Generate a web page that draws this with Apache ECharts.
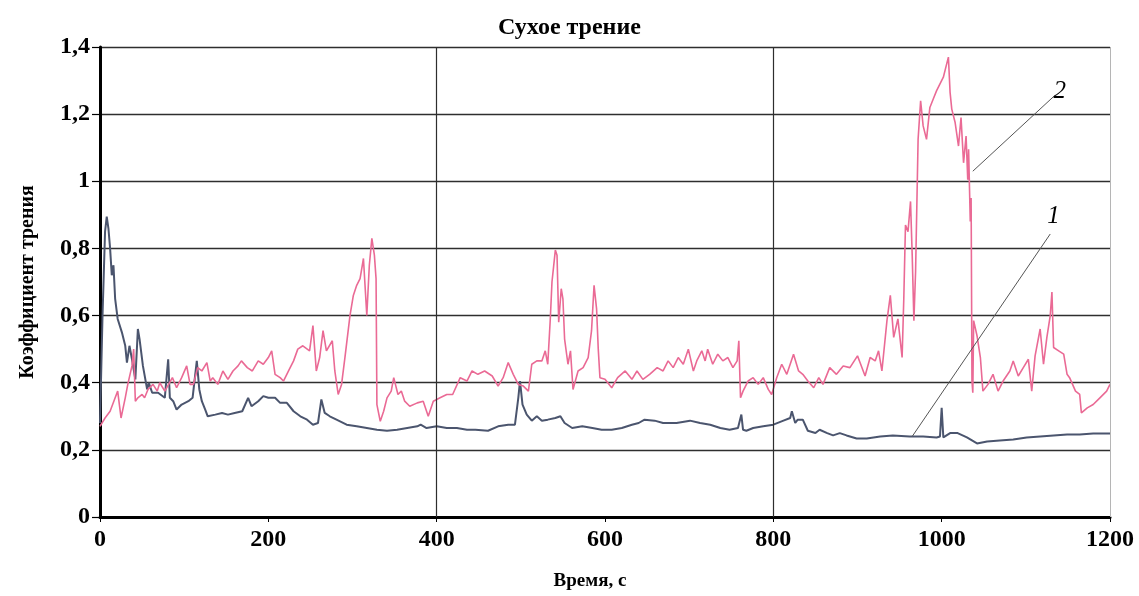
<!DOCTYPE html>
<html>
<head>
<meta charset="utf-8">
<script src="https://cdn.jsdelivr.net/npm/echarts@6/dist/echarts.min.js"></script>
<style>
  html, body { margin: 0; padding: 0; background: #fff; }
  #chart { width: 1139px; height: 596px; }
</style>
</head>
<body>
<div id="chart"></div>
<script>
// кривая 1 (тёмная)
const time1 = [0, 3, 6, 8, 10, 12, 14, 16, 18, 21, 26, 30, 32, 35, 38, 42, 45, 47, 51, 56, 58, 62, 69, 77, 81, 83, 87, 91, 97, 105, 110, 115, 118, 121, 125, 128, 137, 145, 152, 160, 169, 176, 180, 188, 194, 200, 208, 214, 222, 230, 238, 246, 253, 259, 263, 267, 273, 281, 293, 305, 317, 329, 341, 353, 365, 377, 381, 388, 400, 412, 424, 436, 446, 461, 473, 485, 493, 497, 499, 502, 507, 513, 519, 525, 532, 541, 547, 552, 561, 573, 585, 596, 608, 620, 632, 640, 647, 659, 669, 685, 701, 713, 725, 737, 748, 758, 762, 764, 768, 776, 788, 800, 812, 820, 822, 826, 829, 835, 841, 850, 855, 864, 871, 879, 887, 899, 911, 927, 942, 962, 978, 994, 998, 1000, 1002, 1010, 1019, 1030, 1042, 1054, 1069, 1085, 1101, 1117, 1133, 1149, 1164, 1180, 1200]
const coef1 = [0.28, 0.6, 0.85, 0.895, 0.86, 0.8, 0.72, 0.75, 0.65, 0.59, 0.55, 0.51, 0.46, 0.51, 0.47, 0.41, 0.56, 0.53, 0.45, 0.38, 0.4, 0.37, 0.37, 0.355, 0.47, 0.355, 0.345, 0.32, 0.335, 0.345, 0.355, 0.465, 0.38, 0.345, 0.32, 0.3, 0.305, 0.31, 0.305, 0.31, 0.315, 0.355, 0.33, 0.345, 0.36, 0.355, 0.355, 0.34, 0.34, 0.315, 0.3, 0.29, 0.275, 0.28, 0.35, 0.31, 0.3, 0.29, 0.275, 0.27, 0.265, 0.26, 0.257, 0.26, 0.265, 0.27, 0.275, 0.265, 0.27, 0.265, 0.265, 0.26, 0.26, 0.257, 0.27, 0.275, 0.275, 0.355, 0.405, 0.335, 0.305, 0.287, 0.3, 0.287, 0.29, 0.295, 0.3, 0.28, 0.265, 0.27, 0.265, 0.26, 0.26, 0.265, 0.275, 0.28, 0.29, 0.287, 0.28, 0.28, 0.287, 0.28, 0.275, 0.265, 0.26, 0.265, 0.305, 0.26, 0.257, 0.265, 0.27, 0.275, 0.287, 0.295, 0.315, 0.28, 0.29, 0.29, 0.257, 0.25, 0.26, 0.25, 0.243, 0.25, 0.243, 0.234, 0.234, 0.24, 0.243, 0.24, 0.24, 0.237, 0.24, 0.325, 0.237, 0.25, 0.25, 0.237, 0.219, 0.225, 0.228, 0.231, 0.237, 0.24, 0.243, 0.246, 0.246, 0.249, 0.249]

// кривая 2 (розовая)
const time2 = [0, 2, 6, 12, 18, 21, 25, 30, 33, 38, 40, 42, 45, 50, 53, 57, 63, 68, 71, 77, 86, 91, 97, 103, 107, 111, 116, 121, 127, 131, 134, 140, 146, 152, 158, 164, 168, 175, 181, 188, 194, 200, 204, 208, 214, 218, 224, 230, 235, 241, 249, 253, 257, 261, 265, 269, 276, 279, 283, 287, 291, 297, 301, 305, 309, 313, 317, 320, 323, 326, 328, 329, 333, 337, 341, 346, 349, 354, 358, 362, 368, 377, 384, 390, 396, 404, 412, 419, 428, 436, 442, 449, 457, 466, 473, 479, 485, 491, 497, 503, 509, 513, 519, 525, 529, 532, 535, 537, 541, 543, 545, 548, 550, 552, 556, 559, 562, 568, 574, 580, 584, 587, 590, 592, 594, 600, 608, 615, 624, 632, 638, 645, 653, 662, 669, 675, 681, 687, 693, 699, 705, 709, 715, 719, 722, 728, 734, 740, 746, 752, 757, 759, 761, 764, 770, 776, 782, 788, 794, 798, 804, 810, 816, 824, 830, 835, 841, 848, 854, 859, 867, 875, 883, 891, 900, 903, 909, 915, 921, 925, 929, 935, 939, 943, 948, 953, 955, 957, 960, 963, 965, 967, 969, 972, 975, 978, 982, 986, 990, 994, 998, 1002, 1005, 1008, 1010, 1012, 1016, 1020, 1023, 1026, 1029, 1031, 1032, 1034, 1035, 1036, 1037, 1038, 1042, 1046, 1049, 1055, 1061, 1067, 1073, 1081, 1085, 1091, 1097, 1103, 1107, 1111, 1117, 1121, 1125, 1129, 1131, 1133, 1139, 1145, 1149, 1152, 1159, 1164, 1166, 1173, 1180, 1188, 1196, 1200]
const coef2 = [0.27, 0.275, 0.295, 0.315, 0.355, 0.375, 0.295, 0.355, 0.395, 0.45, 0.5, 0.345, 0.355, 0.365, 0.355, 0.38, 0.395, 0.375, 0.4, 0.375, 0.415, 0.385, 0.415, 0.45, 0.395, 0.395, 0.445, 0.435, 0.46, 0.405, 0.415, 0.395, 0.435, 0.41, 0.435, 0.45, 0.465, 0.445, 0.435, 0.465, 0.455, 0.475, 0.495, 0.425, 0.415, 0.405, 0.435, 0.465, 0.5, 0.51, 0.495, 0.57, 0.435, 0.475, 0.555, 0.495, 0.525, 0.435, 0.365, 0.395, 0.475, 0.6, 0.66, 0.69, 0.71, 0.77, 0.6, 0.75, 0.83, 0.78, 0.71, 0.335, 0.285, 0.315, 0.355, 0.375, 0.415, 0.365, 0.375, 0.345, 0.33, 0.34, 0.345, 0.3, 0.345, 0.355, 0.365, 0.365, 0.415, 0.405, 0.435, 0.425, 0.435, 0.42, 0.39, 0.415, 0.46, 0.425, 0.395, 0.39, 0.375, 0.455, 0.465, 0.465, 0.495, 0.455, 0.59, 0.7, 0.795, 0.78, 0.58, 0.68, 0.65, 0.53, 0.455, 0.495, 0.38, 0.435, 0.445, 0.475, 0.555, 0.69, 0.62, 0.5, 0.415, 0.41, 0.385, 0.415, 0.435, 0.41, 0.435, 0.41, 0.425, 0.445, 0.435, 0.465, 0.445, 0.475, 0.455, 0.5, 0.435, 0.465, 0.495, 0.465, 0.5, 0.455, 0.485, 0.465, 0.475, 0.445, 0.465, 0.525, 0.355, 0.375, 0.405, 0.415, 0.395, 0.415, 0.38, 0.365, 0.415, 0.455, 0.425, 0.485, 0.435, 0.425, 0.405, 0.385, 0.415, 0.395, 0.445, 0.425, 0.45, 0.445, 0.48, 0.46, 0.42, 0.475, 0.465, 0.495, 0.435, 0.585, 0.66, 0.535, 0.59, 0.475, 0.65, 0.87, 0.85, 0.94, 0.78, 0.585, 0.73, 1.125, 1.24, 1.165, 1.125, 1.22, 1.245, 1.27, 1.29, 1.31, 1.34, 1.37, 1.265, 1.215, 1.175, 1.105, 1.19, 1.055, 1.135, 1.005, 1.095, 0.88, 0.95, 0.405, 0.37, 0.585, 0.54, 0.475, 0.375, 0.395, 0.425, 0.375, 0.405, 0.435, 0.465, 0.42, 0.445, 0.47, 0.375, 0.48, 0.56, 0.455, 0.535, 0.6, 0.67, 0.505, 0.495, 0.485, 0.425, 0.415, 0.375, 0.365, 0.31, 0.325, 0.335, 0.355, 0.375, 0.395]

const xTicks = [0, 200, 400, 600, 800, 1000, 1200]
const vGridX = [400, 800]
// выноски: [x1, y1, x2, y2] в координатах данных
const leader1 = [965, 0.24, 1129, 0.843]
const leader2 = [1037, 1.03, 1135, 1.257]

const serif = '"Liberation Serif", "DejaVu Serif", serif'

const zip = (xs, ys) => xs.map((x, i) => [x, ys[i]])

const chart = echarts.init(document.getElementById('chart'))

const option = {
  animation: false,
  backgroundColor: '#fff',
  title: {
    text: 'Сухое трение',
    left: 'center',
    top: 11,
    textStyle: { fontFamily: serif, fontSize: 24, fontWeight: 'bold', color: '#000' }
  },
  grid: { left: 100, right: 29, top: 47, bottom: 76 },
  xAxis: {
    type: 'value',
    min: 0,
    max: 1200,
    interval: 200,
    name: 'Время, с',
    nameLocation: 'middle',
    nameGap: 55,
    nameTextStyle: { fontFamily: serif, fontSize: 19, fontWeight: 'bold', color: '#000', padding: [0, 30, 0, 0] },
    axisLine: { lineStyle: { color: '#000', width: 3 } },
    axisTick: { show: true, length: 5, lineStyle: { color: '#000', width: 1 } },
    axisLabel: { fontFamily: serif, fontSize: 24, fontWeight: 'bold', color: '#000', margin: 11,
      formatter: v => xTicks.includes(v) ? String(v) : '' },
    splitLine: { show: false }
  },
  yAxis: {
    type: 'value',
    min: 0,
    max: 1.4,
    interval: 0.2,
    name: 'Коэффициент трения',
    nameLocation: 'middle',
    nameGap: 62,
    nameTextStyle: { fontFamily: serif, fontSize: 20, fontWeight: 'bold', color: '#000' },
    axisLine: { show: true, lineStyle: { color: '#000', width: 3 } },
    axisTick: { show: true, length: 8, lineStyle: { color: '#000', width: 1.2 } },
    axisLabel: { fontFamily: serif, fontSize: 24, fontWeight: 'bold', color: '#000', margin: 10,
      formatter: v => String(+v.toFixed(1)).replace('.', ',') },
    splitLine: { show: true, lineStyle: { color: '#2e2e2e', width: 1.3 } }
  },
  series: [
    {
      name: '1',
      type: 'line',
      data: zip(time1, coef1),
      showSymbol: false,
      lineStyle: { color: '#4b556e', width: 2 },
      itemStyle: { color: '#4b556e' },
      z: 3,
      markLine: {
        silent: true,
        symbol: 'none',
        label: { show: false },
        data: [
          ...vGridX.map(x => ({ xAxis: x, lineStyle: { color: '#2e2e2e', width: 1.2, type: 'solid' } })),
          { xAxis: 1200, lineStyle: { color: '#b5b5b5', width: 1, type: 'solid' } }
        ]
      }
    },
    {
      name: '2',
      type: 'line',
      data: zip(time2, coef2),
      showSymbol: false,
      lineStyle: { color: '#ea6a95', width: 1.6 },
      itemStyle: { color: '#ea6a95' },
      z: 4,
      markLine: {
        silent: true,
        symbol: 'none',
        lineStyle: { color: '#555', width: 1, type: 'solid' },
        label: {
          show: true,
          position: 'end',
          distance: 6,
          formatter: '{b}',
          fontFamily: serif,
          fontStyle: 'italic',
          fontSize: 25,
          color: '#000'
        },
        data: [
          [{ name: '1', coord: [leader1[0], leader1[1]] }, { coord: [leader1[2], leader1[3]] }],
          [{ name: '2', coord: [leader2[0], leader2[1]] }, { coord: [leader2[2], leader2[3]] }]
        ]
      }
    }
  ]
}

chart.setOption(option)
</script>
</body>
</html>
